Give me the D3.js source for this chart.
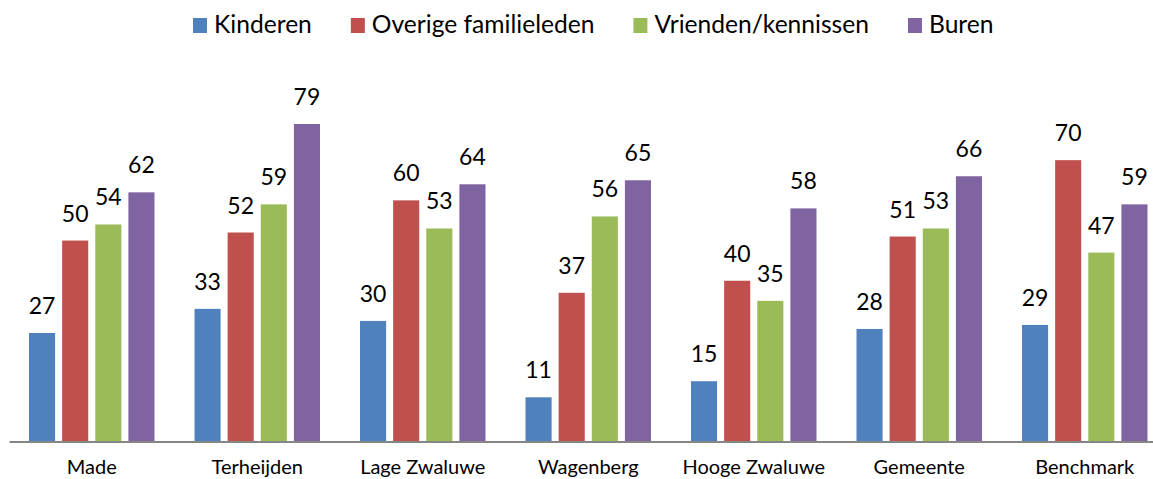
<!DOCTYPE html>
<html>
<head>
<meta charset="utf-8">
<script src="https://cdn.jsdelivr.net/npm/d3@7"></script>
<style>
  body { margin: 0; background: #fff; }
  svg text { font-family: Lato, "Open Sans", sans-serif; fill: #000; }
</style>
</head>
<body>
<svg id="chart" width="1153" height="479"></svg>
<script>
const categories = ['Made', 'Terheijden', 'Lage Zwaluwe', 'Wagenberg', 'Hooge Zwaluwe', 'Gemeente', 'Benchmark'];
const series = ['Kinderen', 'Overige familieleden', 'Vrienden/kennissen', 'Buren'];
const kinderen = [27, 33, 30, 11, 15, 28, 29];
const familie = [50, 52, 60, 37, 40, 51, 70];
const vrienden = [54, 59, 53, 56, 35, 53, 47];
const buren = [62, 79, 64, 65, 58, 66, 59];
const colors = ['#4F81BD', '#C0504D', '#9BBB59', '#8064A2'];

const values = [kinderen, familie, vrienden, buren];
const data = categories.map((c, i) => ({
    cat: c,
    vals: series.map((s, j) => ({ key: s, value: values[j][i], idx: j }))
}));

const svg = d3.select('#chart');

// plot runs a bit past the right edge, like the original
const x0 = d3.scaleBand().domain(categories).range([9, 9 + 7 * 165.5]).paddingInner(0).paddingOuter(0);
const x1 = d3.scaleBand().domain(series).range([20, 145.5]).paddingInner(7 / 33);
const y = d3.scaleLinear().domain([0, 79]).range([441.5, 124]);

const groups = svg.selectAll('g.grp')
    .data(data)
    .join('g')
    .attr('class', 'grp')
    .attr('transform', d => `translate(${x0(d.cat)},0)`);

groups.selectAll('rect')
    .data(d => d.vals)
    .join('rect')
    .attr('x', d => x1(d.key))
    .attr('y', d => y(d.value))
    .attr('width', x1.bandwidth())
    .attr('height', d => y(0) - y(d.value))
    .attr('fill', d => colors[d.idx]);

groups.selectAll('text.val')
    .data(d => d.vals)
    .join('text')
    .attr('class', 'val')
    .attr('x', d => x1(d.key) + x1.bandwidth() / 2)
    .attr('y', d => y(d.value) - 19)
    .attr('text-anchor', 'middle')
    .style('font-size', '23px')
    .text(d => d.value);

// x axis
const xAxis = svg.append('g').attr('transform', `translate(0,${y(0)})`)
    .call(d3.axisBottom(x0).tickSize(0));
xAxis.select('.domain').attr('stroke', '#868686').attr('stroke-width', 2);
xAxis.selectAll('text')
    .attr('y', 32).attr('dy', null)
    .style('font-size', '20px').attr('font-family', null);

// legend
const legend = svg.append('g');
let lx = 193;
series.forEach((s, i) => {
    legend.append('rect').attr('x', lx).attr('y', 18).attr('width', 14).attr('height', 15).attr('fill', colors[i]);
    const t = legend.append('text').attr('x', lx + 21).attr('y', 33).style('font-size', '24.6px').text(s);
    lx = lx + 21 + t.node().getComputedTextLength() + 39;
});
</script>
</body>
</html>
